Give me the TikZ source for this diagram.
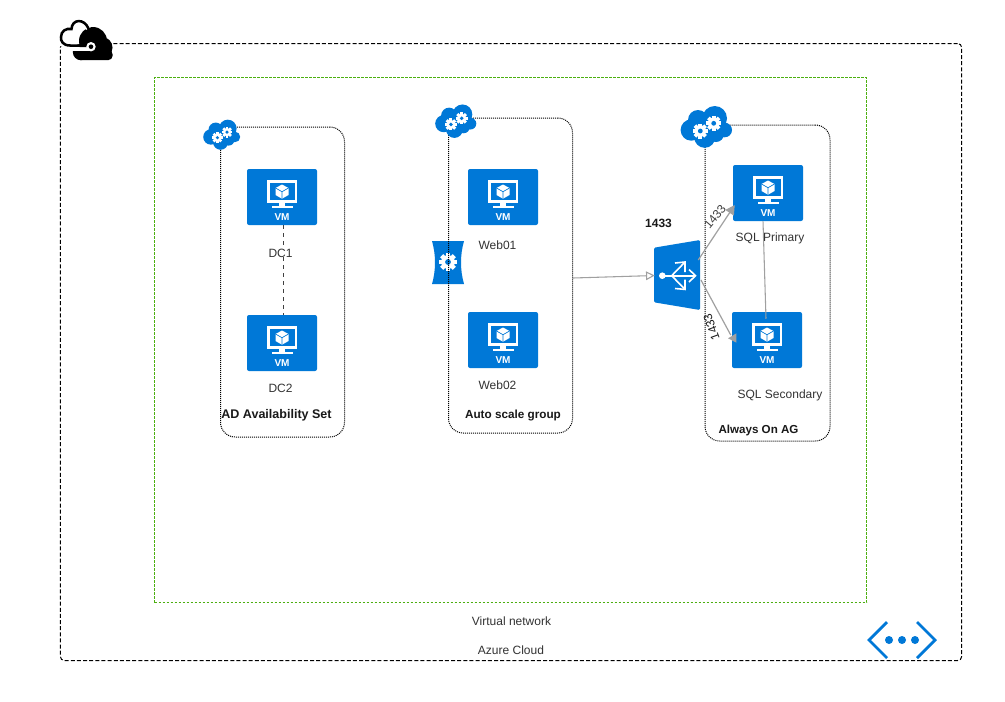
\documentclass[tikz,border=0pt]{standalone}
\usepackage{fontspec}
\setmainfont{Liberation Sans}
\usetikzlibrary{calc,arrows.meta}
\definecolor{azblue}{HTML}{0078D7}
\definecolor{linegray}{HTML}{A0A0A0}
\definecolor{vnetgreen}{HTML}{4CAF10}
\tikzset{
  vmbox/.style={fill=azblue,rounded corners=1.5pt,minimum width=52.5pt,minimum height=42pt,inner sep=0pt,draw=none},
  groupbox/.style={draw=black,line width=0.75pt,rounded corners=11pt,inner sep=0pt,dash pattern=on 0.75pt off 0.75pt},
  outerbox/.style={draw=black,line width=0.75pt,rounded corners=3pt,inner sep=0pt,dash pattern=on 3pt off 1.6pt},
  vnetbox/.style={draw=vnetgreen,line width=0.75pt,inner sep=0pt,dash pattern=on 2.2pt off 0.8pt},
  lbl/.style={font=\fontsize{9}{11}\selectfont,text=black!80,inner sep=0pt},
  blbl/.style={font=\fontsize{9}{11}\selectfont\bfseries,text=black!90,inner sep=0pt},
  conn/.style={draw=linegray,line width=0.8pt},
  openarrow/.style={conn,-{Triangle[open,length=6.5pt,width=6.5pt]}},
  fillarrow/.style={conn,line width=0.9pt,-{Triangle[length=7pt,width=7.5pt,fill=linegray]}},
  spot/.style={minimum width=0pt,minimum height=0pt,inner sep=0pt,draw=none}
}
% VM icon: name, centre x, centre y
\newcommand{\vmicon}[3]{%
  \node[vmbox] (#1) at (#2,#3) {};
  \begin{scope}[shift={(#2,#3)}]
    \fill[white] (-15,-17) rectangle (15,5.5);
    \fill[azblue] (-12.5,-14.5) rectangle (12.5,3);
    \fill[white] (-3,5) rectangle (3,9.5);
    \fill[white] (-10.5,9) rectangle (10.5,11);
    \fill[white] (0,-12.5) -- (6.5,-9) -- (6.5,-2) -- (0,1.7) -- (-6.5,-2) -- (-6.5,-9) -- cycle;
    \draw[azblue,line width=0.5pt] (-6.5,-9) -- (0,-5.3) -- (6.5,-9) (0,-5.3) -- (0,1.7);
    \node[font=\fontsize{7.5}{8}\selectfont\bfseries,text=white,inner sep=0pt] at (0,20) {VM};
  \end{scope}}
% gear: centre x, centre y, outer radius
\newcommand{\geariconat}[3]{%
  \begin{scope}[shift={(#1,#2)}]
    \fill[white] (0,0) circle (#3*0.76);
    \foreach \a in {0,45,...,315}{\fill[white,rotate=\a] (-#3*0.25,0) rectangle (#3*0.25,#3);}
    \fill[azblue] (0,0) circle (#3*0.32);
  \end{scope}}
% cloud with two gears: name x y scale
\newcommand{\gearcloud}[4]{%
  \node[spot,minimum width=38pt*#4,minimum height=31pt*#4] (#1) at (#2,#3) {};
  \begin{scope}[shift={(#2,#3)},scale=#4]
    \fill[azblue] (-14.7,2.7) circle (10.7) (-8,-7.3) circle (10) (8.7,-9) circle (12.3) (18.7,2.7) circle (7.3)
      (-1.3,10) circle (10.5) (10,6.7) circle (8) (2,0) circle (12);
    \geariconat{-5.7}{3.7}{7.5}
    \geariconat{7.7}{-4}{7.5}
  \end{scope}}
\begin{document}
\begin{tikzpicture}[x=0.75pt,y=-0.75pt]
\useasboundingbox (0,0) rectangle (1005,701);
\fill[white] (0,0) rectangle (1005,701);

% containers
\node[outerbox,minimum width=676pt,minimum height=462.75pt] (cloudbox) at (511,352) {};
\node[vnetbox,minimum width=534pt,minimum height=393.75pt] (vnet) at (510.5,340) {};

% autoscale icon (under the group outline)
\node[spot,minimum width=24pt,minimum height=33pt] (scaler) at (448,262) {};
\fill[azblue] (432,241) -- (464,241) .. controls (460,255) and (460,270) .. (464,284) -- (432,284) .. controls (436,270) and (436,255) .. (432,241) -- cycle;
\geariconat{448}{262}{9}

\node[groupbox,minimum width=93pt,minimum height=232.5pt] (adset) at (282.5,282) {};
\node[groupbox,minimum width=93pt,minimum height=236.25pt] (asg) at (510.5,275.5) {};
\node[groupbox,minimum width=93.75pt,minimum height=237pt] (aoag) at (767.5,283) {};

% VMs
\vmicon{dc1}{282}{197}
\vmicon{dc2}{282}{343}
\vmicon{web1}{503}{197}
\vmicon{web2}{503}{340}
\vmicon{sql1}{768}{193}
\vmicon{sql2}{767}{340}

% DC link
\draw[black!75,line width=0.5pt,dashed] ($(dc1.south)+(1.5,0)$) -- ($(dc2.north)+(1.5,0)$);

% labels
\node[lbl,fill=white,inner xsep=1pt] (ldc1) at (280.5,253) {DC1};
\node[lbl] (ldc2) at (280.5,388) {DC2};
\node[lbl] (lw1) at (497.5,245) {Web01};
\node[lbl] (lw2) at (497.5,385) {Web02};
\node[lbl] (ls2) at (780,395) {SQL Secondary};
\node[blbl,font=\fontsize{9.4}{11}\selectfont\bfseries] (lad) at (276.5,415) {AD Availability Set};
\node[blbl,font=\fontsize{8.8}{11}\selectfont\bfseries] (las) at (513,415) {Auto scale group};
\node[blbl,font=\fontsize{8.7}{11}\selectfont\bfseries] (lao) at (758.5,430) {Always On AG};
\node[blbl] (lport) at (658.5,223) {1433};
\node[lbl] (lvnet) at (511.5,621) {Virtual network};
\node[lbl] (lcloud) at (511,650) {Azure Cloud};

% cloud gear badges
\gearcloud{c1}{221.5}{135}{0.72}
\gearcloud{c2}{455.5}{121.5}{0.8}
\gearcloud{c3}{706}{127.3}{1}

% load balancer
\node[spot,minimum width=34.5pt,minimum height=50pt] (lb) at (677,275) {};
\fill[azblue,rounded corners=1pt] (654,247.7) -- (700,240) -- (700,310) -- (654,302.3) -- cycle;
\begin{scope}[white,line width=1.2pt,line join=miter]
  \fill (662.3,275.7) circle (3.3);
  \draw (662.3,275.7) -- (695,275.7);
  \draw (671.7,275.7) -- (685,262);
  \draw (671.7,275.7) -- (685,289.4);
  \draw (675,263) -- (685,262) -- (685,272);
  \draw (675,288.5) -- (685,289.4) -- (685,279.5);
  \draw (689,269.5) -- (695.5,275.7) -- (689,282);
\end{scope}

% connectors
\draw[openarrow] ($(asg.east)+(0,2.5)$) -- ($(lb.west)+(1,0.5)$);
\draw[fillarrow] ($(lb.east)+(-2,-15)$) -- ($(sql1.west)+(2,12)$);
\draw[conn,line width=0.9pt] ($(lb.east)+(0.7,5)$) -- ($(sql2.west)+(-1,-5)$);
\fill[linegray] ($(sql2.west)+(-3.7,-1.7)$) -- ($(sql2.west)+(4.7,-6.7)$) -- ($(sql2.west)+(4.7,2.7)$) -- cycle;
\draw[conn] ($(sql1.south)+(-5,0)$) -- ($(sql2.north)+(-1,7)$);
\node[lbl] (ls1) at (770,238) {SQL Primary};
\node[lbl,rotate=50,text=black!75] (lup) at (715,217) {1433};
\node[lbl,rotate=110,text=black!90] (llow) at (711.5,327) {1433};

% azure cloud icon (top left)
\node[spot,minimum width=39pt,minimum height=30pt] (cicon) at (86,41) {};
\fill[white] (60,46) -- (60,36) .. controls (60,30) and (64,28) .. (70,26) .. controls (74,18) and (86,16) .. (92,26) -- (92,46) -- cycle;
\fill[black] (93,41) circle (14) (102,47.5) circle (10.5) (81,52) circle (8.2);
\fill[black,rounded corners=3pt] (76,50) rectangle (112.5,60);
\draw[white,line width=2.6pt] (72,47) -- (89,47);
\draw[white,line width=1.6pt] (71,49.5) -- (92,49.5);
\draw[white,line width=4pt] (88.5,28.5) .. controls (84,18) and (72,19) .. (71.5,29);
\draw[black,line width=1.9pt,line cap=round] (91,46) -- (70,45.5) .. controls (63,45.5) and (60.5,41) .. (61,37) .. controls (61,31) and (66,28) .. (71.5,29) .. controls (72,19) and (84,18) .. (88.5,28.5);
\fill[white] (91,46.7) circle (4.7);
\fill[black] (91,46.7) circle (2.3);

% virtual network icon
\node[spot,minimum width=52pt,minimum height=27pt] (vneticon) at (902,640) {};
\draw[azblue,line width=2.1pt] (887,622) -- (869,640) -- (887,658);
\draw[azblue,line width=2.1pt] (917,622) -- (935,640) -- (917,658);
\fill[azblue] (889,640) circle (4) (902,640) circle (4) (915,640) circle (4);
\end{tikzpicture}
\end{document}
